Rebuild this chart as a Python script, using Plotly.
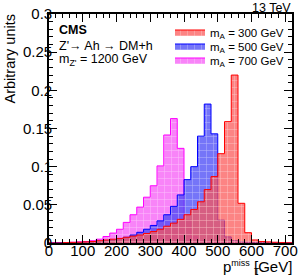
import plotly.graph_objects as go

# ---- data (bin low edges in GeV, 20 GeV bins) ----
bin_low = [0, 20, 40, 60, 80, 100, 120, 140, 160, 180, 200, 220, 240, 260, 280, 300, 320, 340,
           360, 380, 400, 420, 440, 460, 480, 500, 520, 540, 560, 580, 600, 620, 640, 660, 680, 700]
bin_width = 20

red_300 = [0.0, 0.0, 0.0005, 0.0008, 0.001, 0.0015, 0.002, 0.003, 0.004, 0.005, 0.006, 0.0075,
           0.009, 0.0105, 0.0125, 0.015, 0.018, 0.022, 0.026, 0.031, 0.037, 0.044, 0.054, 0.070,
           0.087, 0.117, 0.159, 0.220, 0.052, 0.0135, 0.004, 0.002, 0.0015, 0.001, 0.0005, 0.0003]
blue_500 = [0.0, 0.0002, 0.0003, 0.0005, 0.0007, 0.001, 0.0015, 0.002, 0.003, 0.004, 0.0055, 0.0075,
            0.0105, 0.014, 0.018, 0.023, 0.029, 0.037, 0.048, 0.063, 0.083, 0.100, 0.140, 0.182,
            0.143, 0.030, 0.008, 0.003, 0.0015, 0.001, 0.0007, 0.0005, 0.0003, 0.0002, 0.0001, 0.0001]
mag_700 = [0.0002, 0.0004, 0.0006, 0.001, 0.0015, 0.002, 0.003, 0.005, 0.0085, 0.013, 0.018, 0.027,
           0.037, 0.047, 0.060, 0.075, 0.101, 0.1415, 0.163, 0.124, 0.030, 0.008, 0.003, 0.0015,
           0.001, 0.0005, 0.0004, 0.0003, 0.0002, 0.0002, 0.0001, 0.0001, 0.0001, 0.0, 0.0, 0.0]

x_ticks = [0, 100, 200, 300, 400, 500, 600, 700]

W, H = 298, 276
L, R, T, B = 49, 6, 14, 33
pw, ph = W - L - R, H - T - B


def px(xp):
    return (xp - L) / pw


def py(yp):
    return (H - B - yp) / ph


# name, values, line colour, fill colour, legend id, legend row centre (px)
series = [
    ("m<sub>A</sub> = 700 GeV", mag_700, "#ff00ff", "rgba(245,90,245,0.75)", "legend3", 60),
    ("m<sub>A</sub> = 500 GeV", blue_500, "#0000ff", "rgba(70,70,245,0.75)", "legend2", 46),
    ("m<sub>A</sub> = 300 GeV", red_300, "#ff0000", "rgba(252,85,85,0.72)", "legend", 32),
]

FONT = "Liberation Sans, Arial, sans-serif"

fig = go.Figure()
for name, vals, lc, fc, lg, _ in series:
    xs = bin_low + [bin_low[-1] + bin_width]
    ys = vals + [vals[-1]]
    fig.add_trace(go.Scatter(
        x=xs, y=ys, name=name, mode="lines", line=dict(color=lc, width=1, shape="hv"),
        fill="tozeroy", fillcolor=fc, legend=lg,
        fillpattern=dict(shape="+", bgcolor=fc, fgcolor="rgba(255,255,255,0.55)",
                         size=7, solidity=0.12, fillmode="replace"),
    ))

axis_common = dict(showline=True, linecolor="black", linewidth=1.6, mirror="allticks",
                   ticks="inside", ticklen=8, tickwidth=1, tickcolor="black",
                   showgrid=False, zeroline=False,
                   tickfont=dict(family=FONT, size=15, color="black"))

fig.update_xaxes(range=[0, 720], tickvals=x_ticks, ticklabelstandoff=-7,
                 minor=dict(ticks="inside", ticklen=4, dtick=20, tickcolor="black", showgrid=False),
                 **axis_common)
fig.update_yaxes(range=[0, 0.3], dtick=0.05, ticklabelstandoff=-8,
                 minor=dict(ticks="inside", ticklen=4, dtick=0.01, tickcolor="black", showgrid=False),
                 **axis_common)

annos = [
    dict(text="13 TeV", x=px(293), y=py(8), xanchor="right", yanchor="middle", font=dict(size=12.5)),
    dict(text="<b>CMS</b>", x=px(57), y=py(30), xanchor="left", yanchor="middle", font=dict(size=12.5)),
    dict(text="Z'→ Ah → DM+h", x=px(57), y=py(46), xanchor="left", yanchor="middle", font=dict(size=12.5)),
    dict(text="m<sub>Z'</sub> = 1200 GeV", x=px(57), y=py(60), xanchor="left", yanchor="middle", font=dict(size=12.5)),
    dict(text="Arbitrary units", x=px(9), y=py(13), xanchor="center", yanchor="top", textangle=-90,
         font=dict(size=14.5)),
    dict(text='p<sup><span style="font-size:9px">miss</span></sup> [GeV]', x=px(294), y=py(266),
         xanchor="right", yanchor="middle", font=dict(size=15)),
    dict(text="T", x=px(252), y=py(270.5), xanchor="left", yanchor="middle", font=dict(size=9)),
]
for a in annos:
    a.update(xref="paper", yref="paper", showarrow=False)
    a["font"] = dict(family=FONT, color="black", **a["font"])
    fig.add_annotation(**a)

legend_style = dict(xanchor="left", yanchor="middle", bgcolor="rgba(0,0,0,0)",
                    font=dict(family=FONT, size=11.5, color="black"), itemwidth=30)
layout_legends = {}
for _, _, _, _, lg, row in series:
    layout_legends[lg] = dict(x=px(170), y=py(row), **legend_style)

fig.update_layout(
    width=W, height=H, margin=dict(l=L, r=R, t=T, b=B, autoexpand=False),
    paper_bgcolor="white", plot_bgcolor="white", showlegend=True,
    **layout_legends,
)

fig.write_html("out.html")
